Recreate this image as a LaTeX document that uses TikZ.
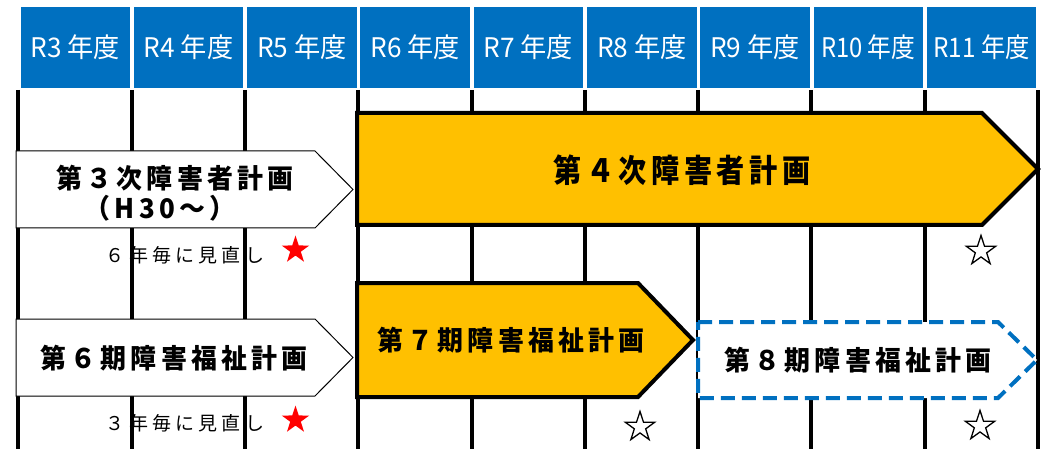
\documentclass[tikz,border=0pt]{standalone}
\usepackage{fontspec}
\usetikzlibrary{shapes.geometric}
\newfontfamily\jp{Noto Sans CJK JP}
\newfontfamily\jpb[LetterSpace=16]{Noto Sans CJK JP Black}
\newfontfamily\jps[LetterSpace=22]{Noto Sans CJK JP}
\definecolor{hdrblue}{HTML}{0070C0}
\definecolor{planorange}{HTML}{FFC000}
\tikzset{
  hdr/.style={fill=hdrblue,draw=none,text=white,font=\jp\fontsize{27}{27}\selectfont,inner sep=0},
  gridline/.style={line width=4pt,black},
  oldplan/.style={draw=black,line width=1pt,fill=white,line join=miter},
  curplan/.style={draw=black,line width=4pt,fill=planorange,line join=miter},
  nextplan/.style={draw=hdrblue,line width=4pt,fill=white,dash pattern=on 14pt off 7pt,line join=miter},
  title/.style={font=\jpb\fontsize{27}{27}\selectfont,inner sep=0,text=black},
  bigtitle/.style={font=\jpb\fontsize{32}{32}\selectfont,inner sep=0,text=black},
  note/.style={font=\jps\fontsize{19}{19}\selectfont,inner sep=0,text=black},
  redstar/.style={star,star points=5,star point ratio=2.6,fill=red,draw=none,minimum size=29pt,inner sep=0},
  whitestar/.style={star,star points=5,star point ratio=2.6,fill=white,draw=black,line width=1.3pt,minimum size=31pt,inner sep=0}
}
\newcommand{\narrow}[1]{\scalebox{0.96}[1]{#1}}
\begin{document}
\begin{tikzpicture}[x=1pt,y=-1pt]
\useasboundingbox (0,0) rectangle (1047,449);
% vertical grid lines
\foreach \k in {0,...,9}{
  \draw[gridline] ({18.3+113.3*\k},90) -- ({18.3+113.3*\k},449);
}
% header boxes
\foreach \lab/\sc [count=\i from 0] in {R3/0.97,R4/0.97,R5/0.97,R6/0.97,R7/0.97,R8/0.97,R9/0.97,R10/0.88,R11/0.9}{
  \node[hdr,minimum width=109.5pt,minimum height=81pt,anchor=north west] (h\i) at ({20.3+113.3*\i},7) {\scalebox{\sc}[1]{\lab\ 年度}};
}
% third plan
\draw[oldplan] (16,151) -- (315,151) -- (353,189.5) -- (315,228) -- (16,228) -- cycle;
\node[title] (p3a) at (175,178) {\narrow{第３次障害者計画}};
\node[title] (p3b) at (160,208) {\narrow{（H30～）}};
\node[note] (n6) at (185,255) {６年毎に見直し};
\node[redstar] (rs1) at (295.5,250) {};
% fourth plan
\draw[curplan] (357,113) -- (982,113) -- (1038,169) -- (982,225) -- (357,225) -- cycle;
\node[bigtitle] (p4) at (682,170) {\scalebox{0.88}[1]{第４次障害者計画}};
\node[whitestar] (ws4) at (981,251) {};
% sixth period
\draw[oldplan] (16,319) -- (315,319) -- (353,357.5) -- (315,396) -- (16,396) -- cycle;
\node[title] (p6) at (174,358) {\narrow{第６期障害福祉計画}};
\node[note] (n3) at (185,423) {３年毎に見直し};
\node[redstar] (rs2) at (295.5,420) {};
% seventh period
\draw[curplan] (357,283) -- (638,283) -- (693,340) -- (638,397) -- (357,397) -- cycle;
\node[title] (p7) at (511,340) {\narrow{第７期障害福祉計画}};
\node[whitestar] (ws7) at (640,427) {};
% eighth period
\draw[nextplan] (698,322) -- (998,322) -- (1037,360) -- (998,398) -- (698,398) -- cycle;
\node[title] (p8) at (858,360) {\narrow{第８期障害福祉計画}};
\node[whitestar] (ws8) at (980,426) {};
\end{tikzpicture}
\end{document}
